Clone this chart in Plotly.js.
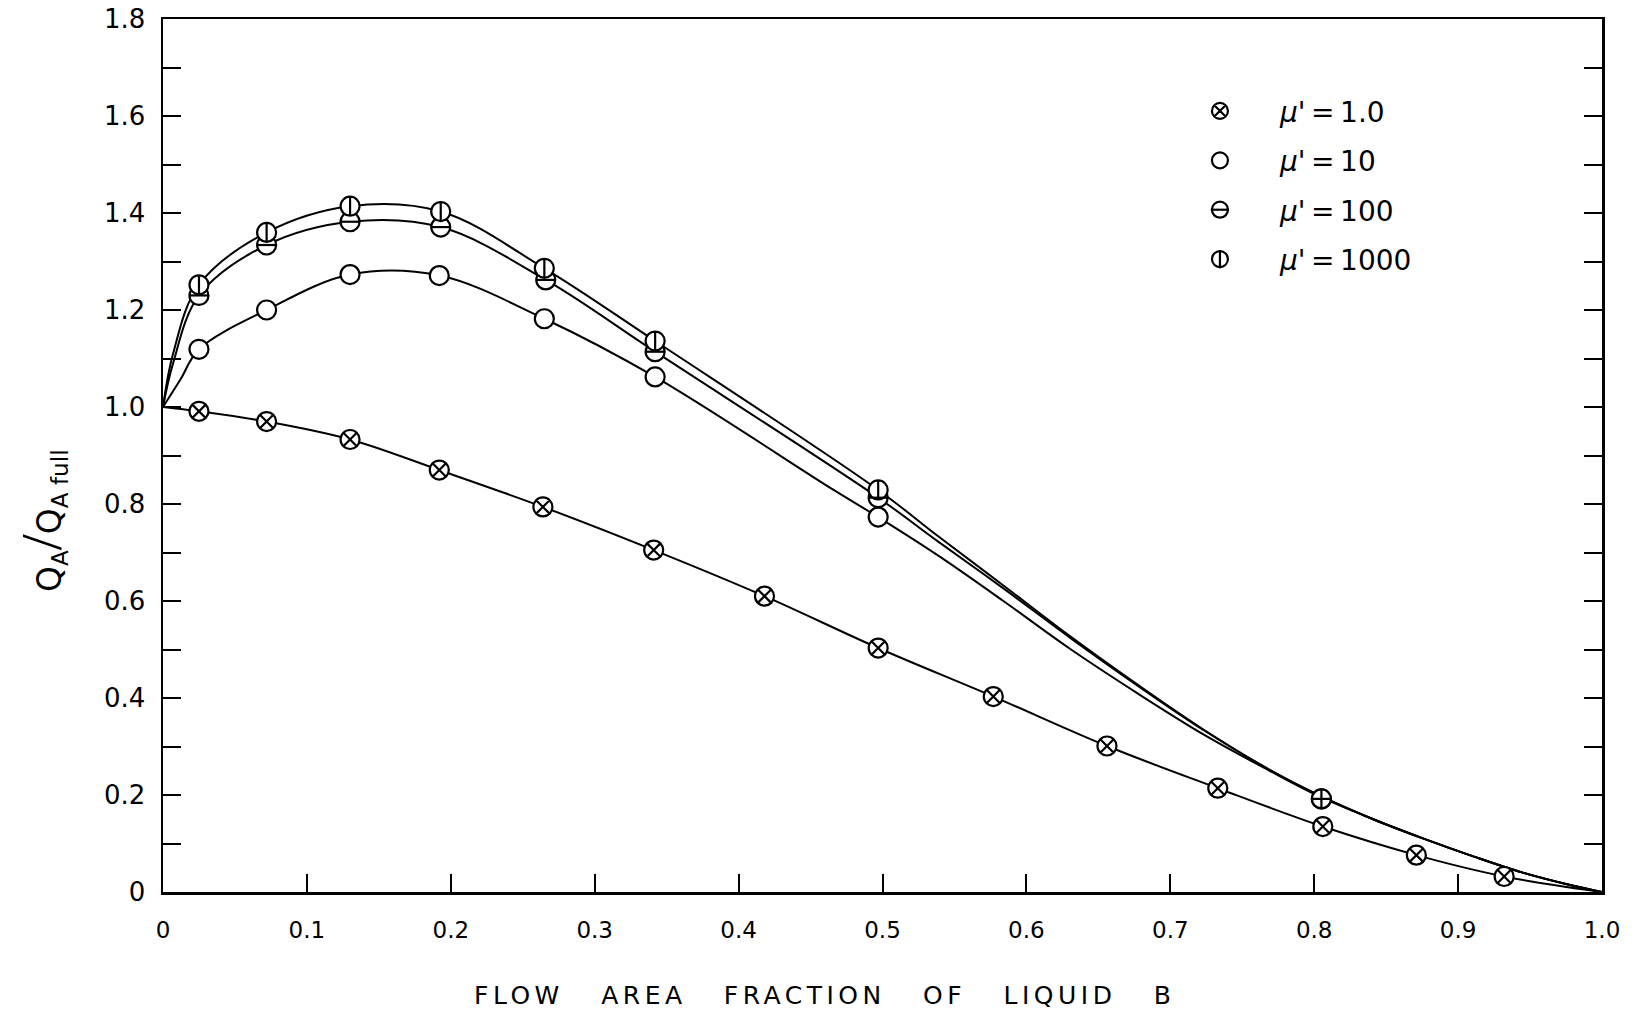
<!DOCTYPE html>
<html>
<head>
<meta charset="utf-8">
<script src="https://cdn.plot.ly/plotly-3.0.1.min.js"></script>
<style>html,body{margin:0;padding:0;background:#fff;}</style>
</head>
<body>
<div id="chart" style="width:1650px;height:1016px;"></div>
<script>
// ---- tick labels ----
const xTickVals = [0, 0.1, 0.2, 0.3, 0.4, 0.5, 0.6, 0.7, 0.8, 0.9, 1.0];
const xTickLabels = ['0', '0.1', '0.2', '0.3', '0.4', '0.5', '0.6', '0.7', '0.8', '0.9', '1.0'];
const yTickVals = [0, 0.2, 0.4, 0.6, 0.8, 1.0, 1.2, 1.4, 1.6, 1.8];
const yTickLabels = ['0', '0.2', '0.4', '0.6', '0.8', '1.0', '1.2', '1.4', '1.6', '1.8'];

// ---- texts ----
const seriesNames = ["<i>μ</i>'\u2009=\u20091.0", "<i>μ</i>'\u2009=\u200910", "<i>μ</i>'\u2009=\u2009100", "<i>μ</i>'\u2009=\u20091000"];
const xTitleWords = ['FLOW', 'AREA', 'FRACTION', 'OF', 'LIQUID', 'B'];

const x_mu1 = [0.025, 0.072, 0.130, 0.192, 0.264, 0.341, 0.418, 0.497, 0.577, 0.656, 0.733, 0.806, 0.871, 0.932];
const y_mu1 = [0.991, 0.970, 0.933, 0.870, 0.794, 0.705, 0.610, 0.503, 0.403, 0.301, 0.214, 0.135, 0.076, 0.032];

const x_mu10 = [0.025, 0.072, 0.130, 0.192, 0.265, 0.342, 0.497];
const y_mu10 = [1.119, 1.200, 1.273, 1.271, 1.182, 1.062, 0.773];

const x_mu100 = [0.025, 0.072, 0.130, 0.193, 0.266, 0.342, 0.497, 0.805];
const y_mu100 = [1.230, 1.334, 1.382, 1.371, 1.262, 1.114, 0.813, 0.192];

const x_mu1000 = [0.025, 0.072, 0.130, 0.193, 0.265, 0.342, 0.497, 0.805];
const y_mu1000 = [1.252, 1.360, 1.414, 1.403, 1.286, 1.136, 0.829, 0.192];

// ---- drawn curves ----
const cx_mu1 = [0, 0.025, 0.072, 0.130, 0.192, 0.264, 0.341, 0.418, 0.497, 0.577, 0.656, 0.733, 0.806, 0.871, 0.932, 1.0];
const cy_mu1 = [1.0, 0.991, 0.970, 0.933, 0.870, 0.794, 0.705, 0.610, 0.503, 0.403, 0.301, 0.214, 0.135, 0.076, 0.032, 0.0];

const cx_mu10 = [0, 0.012, 0.025, 0.072, 0.130, 0.192, 0.265, 0.342, 0.466, 0.497, 0.538, 0.584, 0.630, 0.677, 0.723, 0.769, 0.805, 0.841, 0.876, 0.911, 0.945, 0.980, 1.0];
const cy_mu10 = [1.0, 1.056, 1.119, 1.200, 1.273, 1.271, 1.182, 1.062, 0.829, 0.773, 0.695, 0.600, 0.502, 0.410, 0.325, 0.250, 0.195, 0.150, 0.110, 0.073, 0.040, 0.013, 0.0];

const cx_mu100 = [0, 0.007, 0.025, 0.072, 0.130, 0.193, 0.266, 0.342, 0.497, 0.538, 0.584, 0.630, 0.677, 0.723, 0.769, 0.805, 0.841, 0.876, 0.911, 0.945, 0.980, 1.0];
const cy_mu100 = [1.0, 1.090, 1.230, 1.334, 1.382, 1.371, 1.262, 1.114, 0.813, 0.724, 0.626, 0.525, 0.426, 0.334, 0.252, 0.197, 0.150, 0.110, 0.073, 0.040, 0.013, 0.0];

const cx_mu1000 = [0, 0.007, 0.025, 0.072, 0.130, 0.193, 0.265, 0.342, 0.497, 0.538, 0.584, 0.630, 0.677, 0.723, 0.769, 0.805, 0.841, 0.876, 0.911, 0.945, 0.980, 1.0];
const cy_mu1000 = [1.0, 1.110, 1.252, 1.360, 1.414, 1.403, 1.286, 1.136, 0.829, 0.735, 0.632, 0.528, 0.428, 0.335, 0.252, 0.197, 0.150, 0.110, 0.073, 0.040, 0.013, 0.0];

const FONT = 'DejaVu Sans, Liberation Sans, sans-serif';
const MS = 19;

function curve(x, y) {
  return {x: x, y: y, type: 'scatter', mode: 'lines', showlegend: false, hoverinfo: 'skip',
          line: {color: '#000', width: 2, shape: 'spline', smoothing: 1.0}};
}
function pts(x, y, name, symbol, group) {
  return {x: x, y: y, type: 'scatter', mode: 'markers', name: name, legendgroup: group, legend: 'legend',
          marker: {symbol: symbol, size: MS, color: '#fff', line: {color: '#000', width: 2.2}}};
}
function bars(x, y, symbol, group) {
  return {x: x, y: y, type: 'scatter', mode: 'markers', name: '', legendgroup: group, legend: 'legend2',
          marker: {symbol: symbol, size: 13, color: '#000', line: {color: '#000', width: 2.2}}};
}

const data = [
  curve(cx_mu1, cy_mu1), curve(cx_mu10, cy_mu10), curve(cx_mu100, cy_mu100), curve(cx_mu1000, cy_mu1000),
  pts(x_mu1, y_mu1, seriesNames[0], 'circle-x', 'g1'),
  pts(x_mu10, y_mu10, seriesNames[1], 'circle', 'g10'),
  pts(x_mu100, y_mu100, seriesNames[2], 'circle', 'g100'),
  pts(x_mu1000, y_mu1000, seriesNames[3], 'circle', 'g1000'),
  bars(x_mu100, y_mu100, 'line-ew-open', 'b100'),
  bars(x_mu1000, y_mu1000, 'line-ns-open', 'b1000')
];

const plotH = 1016 - 19 - 124;
const legFont = 28;
const gap = 10;
const rowH = Math.max(legFont * 1.3, 16) + 3 + gap;
const legY = 0.923;
const legX = 0.6928;

const sp = '\u00a0\u00a0\u00a0';
const xTitle = '<span style="letter-spacing:4.5px">' + xTitleWords.join(sp) + '</span>';
const yTitle = 'Q<sub>A</sub><span style="font-family:Liberation Serif;font-size:58px">/</span>Q<sub>A\u00a0full</sub>';

const layout = {
  width: 1650, height: 1016,
  margin: {l: 163, r: 48, t: 19, b: 124},
  paper_bgcolor: '#fff', plot_bgcolor: '#fff',
  font: {family: FONT, color: '#000', size: 24},
  hovermode: false,
  xaxis: {
    range: [0, 1], tickmode: 'array', tickvals: xTickVals, ticktext: xTickLabels,
    ticks: 'inside', ticklen: 18, tickwidth: 2, tickcolor: '#000',
    showline: true, linewidth: 2.5, linecolor: '#000', mirror: true,
    showgrid: false, zeroline: false,
    tickfont: {family: FONT, size: 23, color: '#000'},
    ticklabelstandoff: 16
  },
  yaxis: {
    range: [0, 1.8], tickmode: 'array', tickvals: yTickVals, ticktext: yTickLabels,
    ticks: 'inside', ticklen: 18, tickwidth: 2, tickcolor: '#000',
    minor: {dtick: 0.1, ticks: 'inside', ticklen: 18, tickwidth: 2, tickcolor: '#000', showgrid: false},
    showline: true, linewidth: 2.5, linecolor: '#000', mirror: 'ticks',
    showgrid: false, zeroline: false,
    tickfont: {family: FONT, size: 26, color: '#000'},
    ticklabelstandoff: 10
  },
  annotations: [
    {text: xTitle, xref: 'paper', yref: 'paper', x: 0.46, y: -0.119, xanchor: 'center', yanchor: 'middle',
     showarrow: false, font: {family: FONT, size: 25, color: '#000'}},
    {text: yTitle, xref: 'paper', yref: 'paper', x: -0.084, y: 0.425, xanchor: 'center', yanchor: 'middle',
     textangle: -90, showarrow: false, font: {family: FONT, size: 33, color: '#000'}}
  ],
  showlegend: true,
  legend: {x: legX, y: legY, xanchor: 'left', yanchor: 'top', bgcolor: 'rgba(0,0,0,0)', borderwidth: 0,
           font: {family: FONT, size: legFont, color: '#000'}, traceorder: 'grouped', tracegroupgap: gap,
           itemwidth: 110, itemclick: false},
  legend2: {x: legX, y: legY - 2 * rowH / plotH, xanchor: 'left', yanchor: 'top', bgcolor: 'rgba(0,0,0,0)', borderwidth: 0,
           font: {family: FONT, size: legFont, color: '#000'}, traceorder: 'grouped', tracegroupgap: gap,
           itemwidth: 110, itemclick: false}
};

Plotly.newPlot('chart', data, layout, {staticPlot: true, displayModeBar: false});
</script>
</body>
</html>
